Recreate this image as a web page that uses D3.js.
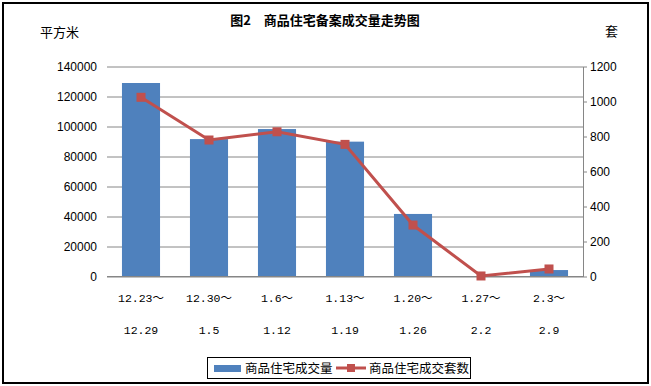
<!DOCTYPE html>
<html>
<head>
<meta charset="utf-8">
<script src="https://cdn.jsdelivr.net/npm/d3@7"></script>
<style>
body { margin: 0; background: #fff; }
text { font-family: "Noto Sans CJK SC", "Liberation Sans", sans-serif; fill: #000; }
.tick text { font-family: "Liberation Sans", Arial, sans-serif; font-size: 12px; }
.xlab { font-family: "Liberation Mono", "Noto Sans CJK SC", monospace; font-size: 11.5px; }
</style>
</head>
<body>
<div id="chart"></div>
<script>
const periodsTop = ['12.23～', '12.30～', '1.6～', '1.13～', '1.20～', '1.27～', '2.3～'];
const periodsBottom = ['12.29', '1.5', '1.12', '1.19', '1.26', '2.2', '2.9'];
const areaValues = [129000, 91600, 98300, 89900, 41700, 300, 4300];
const unitValues = [1024, 780, 827, 755, 294, 3, 43];
const leftTicks = [0, 20000, 40000, 60000, 80000, 100000, 120000, 140000];
const rightTicks = [0, 200, 400, 600, 800, 1000, 1200];

const W = 651, H = 386;
const margin = { top: 66.5, right: 68, bottom: 109.5, left: 107 };
const width = W - margin.left - margin.right;
const height = H - margin.top - margin.bottom;

const root = d3.select('#chart').append('svg')
    .attr('width', W).attr('height', H);

root.append('rect')
    .attr('x', 3).attr('y', 3).attr('width', W - 6).attr('height', H - 6)
    .attr('fill', '#fff').attr('stroke', '#000').attr('stroke-width', 2);

root.append('text')
    .attr('x', 325).attr('y', 25)
    .attr('text-anchor', 'middle')
    .style('font-size', '13px').style('font-weight', 'bold')
    .text('图2　商品住宅备案成交量走势图');

root.append('text').attr('x', 40).attr('y', 37)
    .style('font-size', '13px').text('平方米');
root.append('text').attr('x', 605).attr('y', 36)
    .style('font-size', '13px').text('套');

const svg = root.append('g')
    .attr('transform', `translate(${margin.left},${margin.top})`);

const x = d3.scaleBand().domain(d3.range(periodsTop.length)).range([0, width])
    .paddingInner(0.44).paddingOuter(0.22);
const yL = d3.scaleLinear().domain([0, 140000]).range([height, 0]);
const yR = d3.scaleLinear().domain([0, 1200]).range([height, 0]);

// gridlines
svg.append('g')
    .call(d3.axisLeft(yL).tickValues(leftTicks).tickSize(-width).tickFormat(''))
    .call(g => g.select('.domain').remove())
    .call(g => g.selectAll('line').attr('stroke', '#868686'));

svg.append('g')
    .call(d3.axisLeft(yL).tickValues(leftTicks).tickSize(0).tickPadding(10).tickFormat(d3.format('d')))
    .call(g => g.select('.domain').remove());

svg.append('g')
    .attr('transform', `translate(${width},0)`)
    .call(d3.axisRight(yR).tickValues(rightTicks).tickSize(4).tickPadding(3).tickSizeOuter(0).tickFormat(d3.format('d')))
    .call(g => g.select('.domain').attr('stroke', '#868686'))
    .call(g => g.selectAll('.tick line').attr('stroke', '#868686'));

svg.selectAll('.bar')
    .data(areaValues)
    .enter().append('rect')
    .attr('x', (d, i) => x(i))
    .attr('y', d => yL(d))
    .attr('width', x.bandwidth())
    .attr('height', d => height - yL(d))
    .attr('fill', '#4F81BD');

svg.append('line')
    .attr('x1', 0).attr('x2', width).attr('y1', height).attr('y2', height)
    .attr('stroke', '#868686');

const cx = i => x(i) + x.bandwidth() / 2;

svg.append('path')
    .datum(unitValues)
    .attr('fill', 'none')
    .attr('stroke', '#C0504D')
    .attr('stroke-width', 3)
    .attr('d', d3.line().x((d, i) => cx(i)).y(d => yR(d)));

svg.selectAll('.mk')
    .data(unitValues)
    .enter().append('rect')
    .attr('x', (d, i) => cx(i) - 4.5)
    .attr('y', d => yR(d) - 4.5)
    .attr('width', 9).attr('height', 9)
    .attr('fill', '#C0504D');

// x labels
const xl = svg.append('g').attr('class', 'xlab');
periodsTop.forEach((t, i) => {
    xl.append('text').attr('class', 'xlab').attr('x', cx(i)).attr('y', height + 25)
        .attr('text-anchor', 'middle').text(t);
    xl.append('text').attr('class', 'xlab').attr('x', cx(i)).attr('y', height + 57)
        .attr('text-anchor', 'middle').text(periodsBottom[i]);
});

// legend
const lg = root.append('g');
lg.append('rect').attr('x', 207.5).attr('y', 357.5).attr('width', 263).attr('height', 21)
    .attr('fill', '#fff').attr('stroke', '#000');
lg.append('rect').attr('x', 214).attr('y', 365).attr('width', 27).attr('height', 7).attr('fill', '#4F81BD');
lg.append('text').attr('x', 245).attr('y', 373).style('font-size', '12.5px').text('商品住宅成交量');
lg.append('line').attr('x1', 336).attr('x2', 366).attr('y1', 368).attr('y2', 368)
    .attr('stroke', '#C0504D').attr('stroke-width', 3);
lg.append('rect').attr('x', 347).attr('y', 364).attr('width', 8).attr('height', 8).attr('fill', '#C0504D');
lg.append('text').attr('x', 369).attr('y', 373).style('font-size', '12.5px').text('商品住宅成交套数');
</script>
</body>
</html>
